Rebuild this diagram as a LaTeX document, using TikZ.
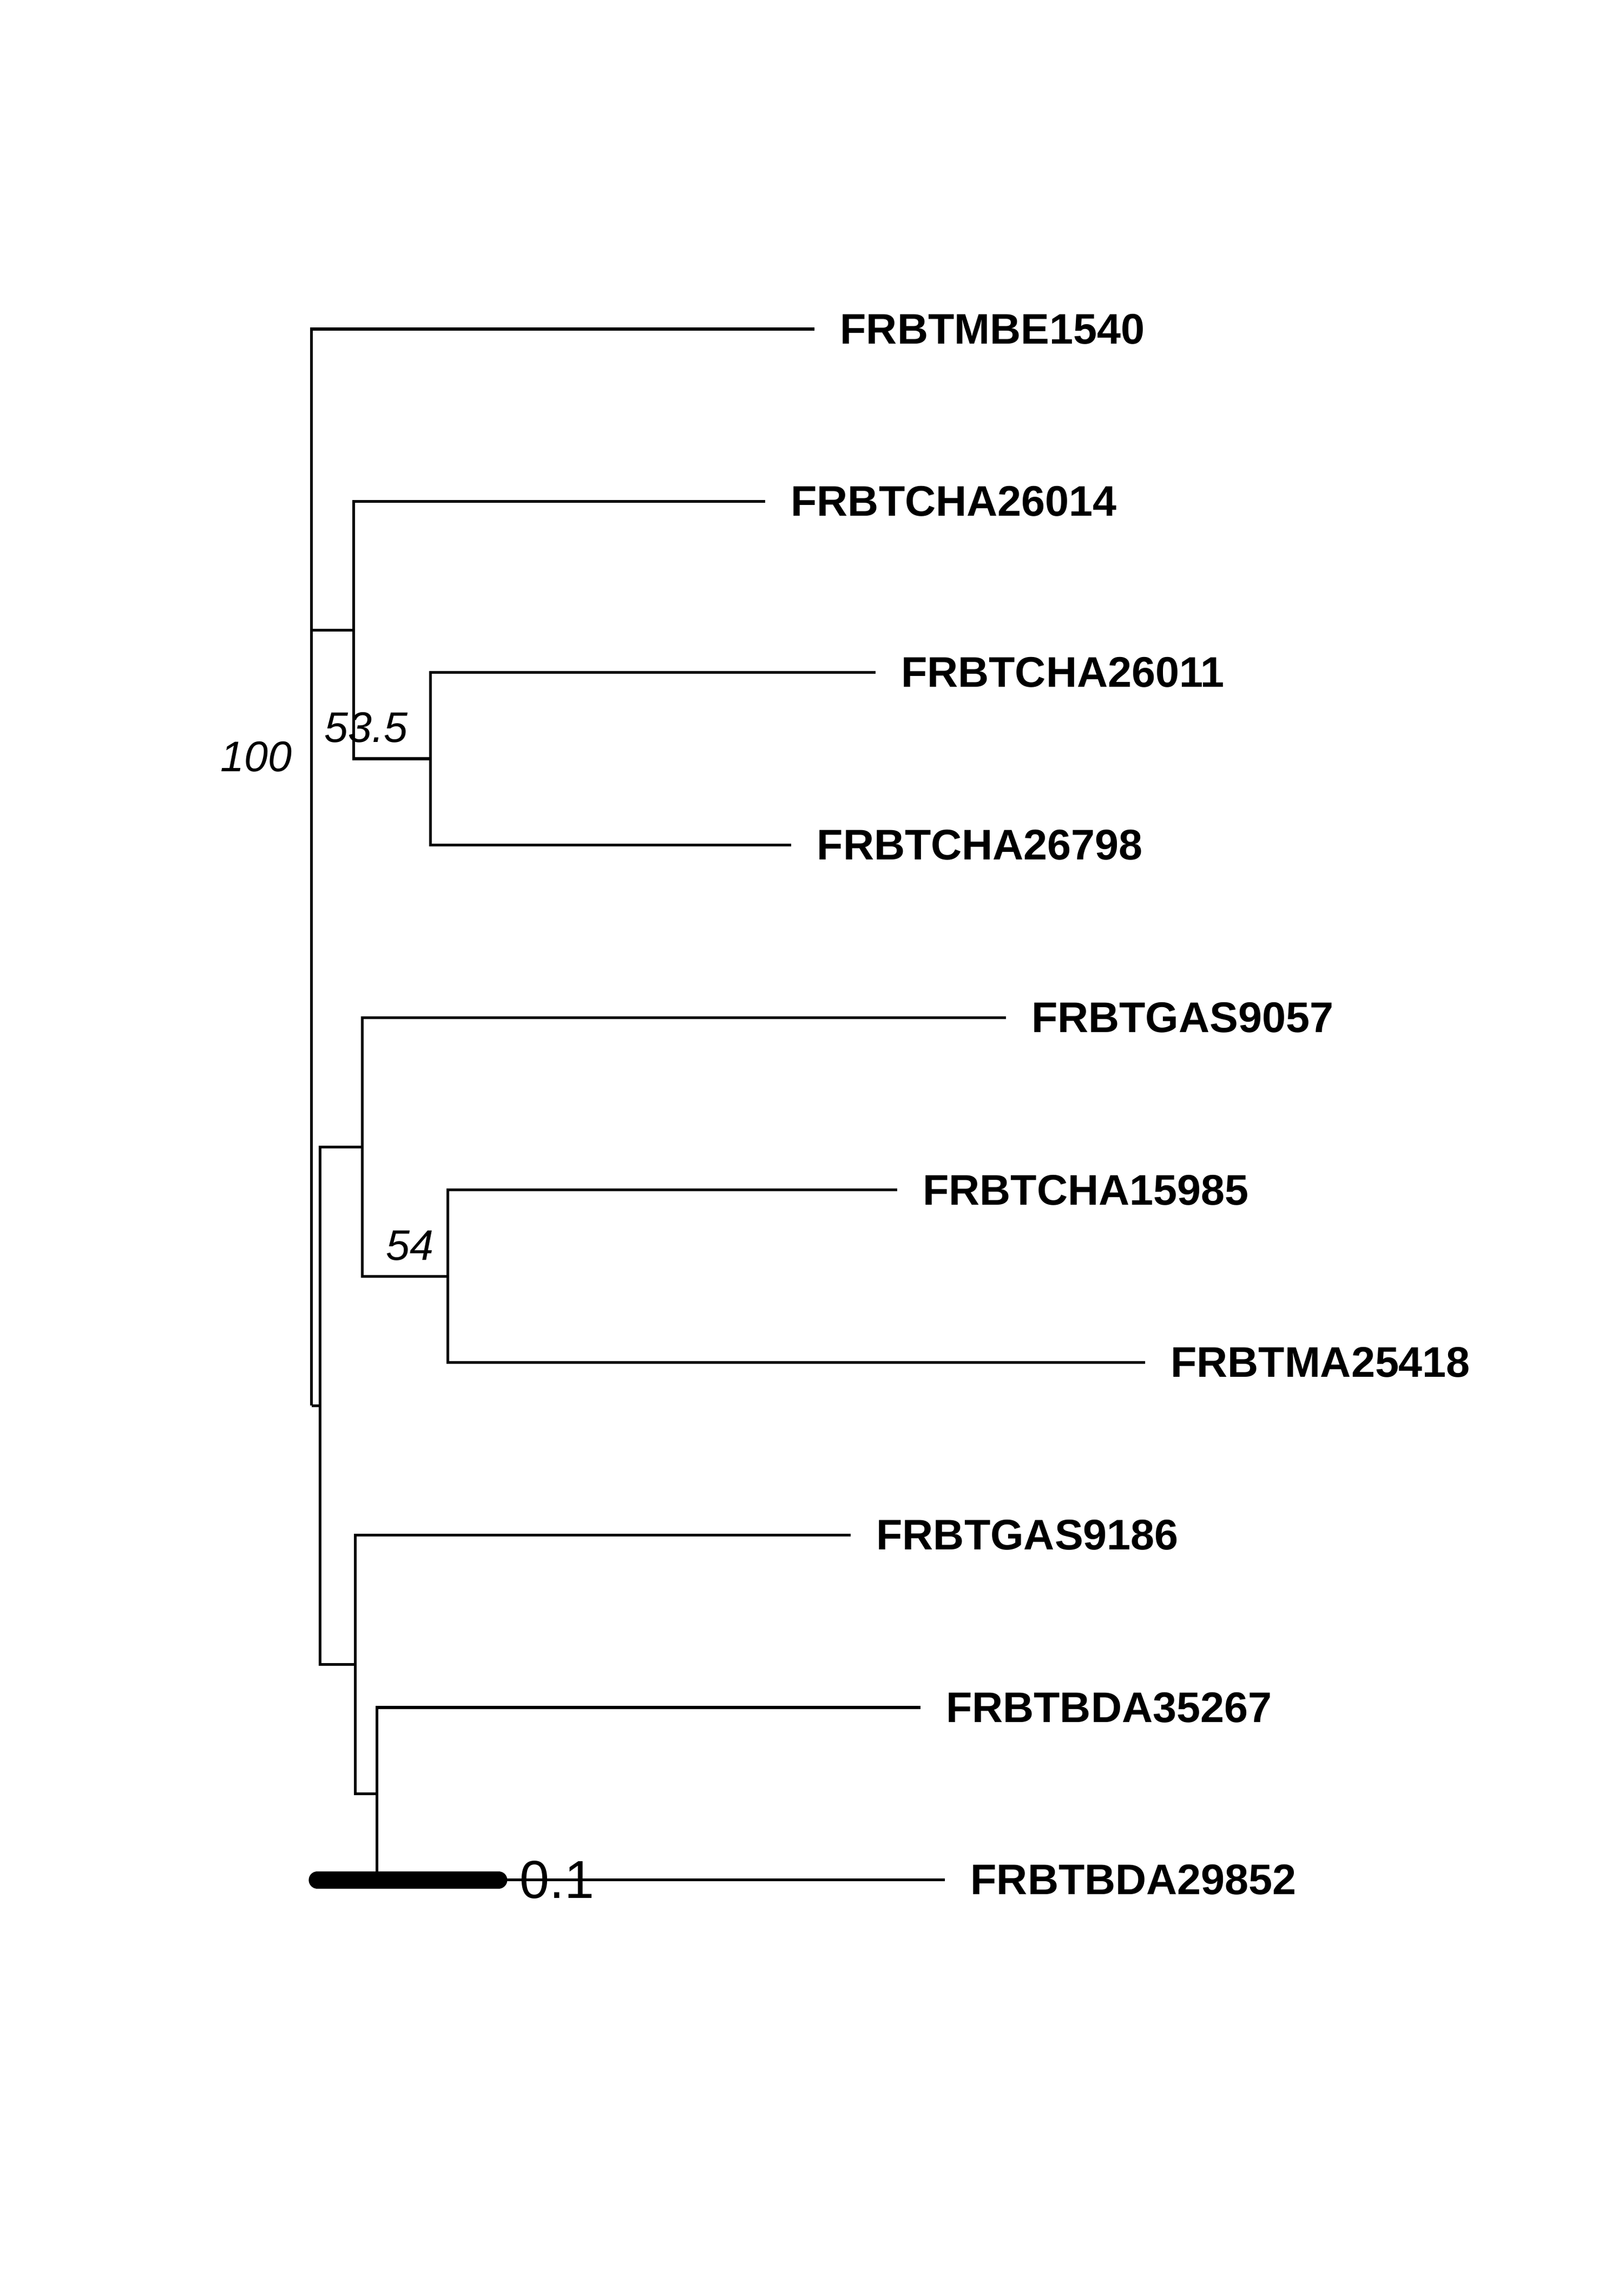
\documentclass[tikz,border=0pt]{standalone}
\usepackage{fontspec}
\setmainfont{Liberation Sans}
\usetikzlibrary{positioning}

\tikzset{
	branch/.style = {line width=0.54pt},
	tiplab/.style = {inner sep=0pt, font=\fontsize{8.25}{10}\selectfont\bfseries},
	support/.style = {anchor=east, inner sep=0pt, font=\fontsize{8.25}{10}\selectfont\itshape},
}

\begin{document}
\begin{tikzpicture}[x=0.0982mm, y=-0.0982mm]
	\useasboundingbox (0,0) rectangle (1120.2,1568.2);
	% inner nodes
	\coordinate (root) at (215,969.75);
	\coordinate (A) at (244,434.75);
	\coordinate (B) at (297,523.5);
	\coordinate (C) at (221,969.75);
	\coordinate (D) at (250,791.25);
	\coordinate (E) at (309,880.5);
	\coordinate (F) at (245,1148.25);
	\coordinate (G) at (260,1237.5);
	% tips
	\coordinate (t1) at (562,227);
	\coordinate (t2) at (528,346);
	\coordinate (t3) at (604,464);
	\coordinate (t4) at (546,583);
	\coordinate (t5) at (694,702);
	\coordinate (t6) at (619,821);
	\coordinate (t7) at (790,940);
	\coordinate (t8) at (587,1059);
	\coordinate (t9) at (635,1178);
	\coordinate (t10) at (652,1297);
	% branches
	\draw[branch] (root) |- (t1);
	\draw[branch] (root) |- (A);
	\draw[branch] (root) |- (C);
	\draw[branch] (A) |- (t2);
	\draw[branch] (A) |- (B);
	\draw[branch] (B) |- (t3);
	\draw[branch] (B) |- (t4);
	\draw[branch] (C) |- (D);
	\draw[branch] (C) |- (F);
	\draw[branch] (D) |- (t5);
	\draw[branch] (D) |- (E);
	\draw[branch] (E) |- (t6);
	\draw[branch] (E) |- (t7);
	\draw[branch] (F) |- (t8);
	\draw[branch] (F) |- (G);
	\draw[branch] (G) |- (t9);
	\draw[branch] (G) |- (t10);
	% tip labels
	\node[tiplab, right=1.67mm of t1] (l1) {FRBTMBE1540};
	\node[tiplab, right=1.67mm of t2] (l2) {FRBTCHA26014};
	\node[tiplab, right=1.67mm of t3] (l3) {FRBTCHA26011};
	\node[tiplab, right=1.67mm of t4] (l4) {FRBTCHA26798};
	\node[tiplab, right=1.67mm of t5] (l5) {FRBTGAS9057};
	\node[tiplab, right=1.67mm of t6] (l6) {FRBTCHA15985};
	\node[tiplab, right=1.67mm of t7] (l7) {FRBTMA25418};
	\node[tiplab, right=1.67mm of t8] (l8) {FRBTGAS9186};
	\node[tiplab, right=1.67mm of t9] (l9) {FRBTBDA35267};
	\node[tiplab, right=1.67mm of t10] (l10) {FRBTBDA29852};
	% support values
	\node[support] (s100) at (202,522) {100};
	\node[support] (s535) at (282,502) {53.5};
	\node[support] (s54) at (300,859.5) {54};
	% scale bar
	\coordinate (sb0) at (219,1297);
	\coordinate (sb1) at (344,1297);
	\draw[line width=1.18mm, line cap=round] (sb0) -- (sb1);
	\node[right, inner sep=0pt, font=\fontsize{10.3}{12}\selectfont] (sblab) at (358,1297) {0.1};
\end{tikzpicture}
\end{document}
